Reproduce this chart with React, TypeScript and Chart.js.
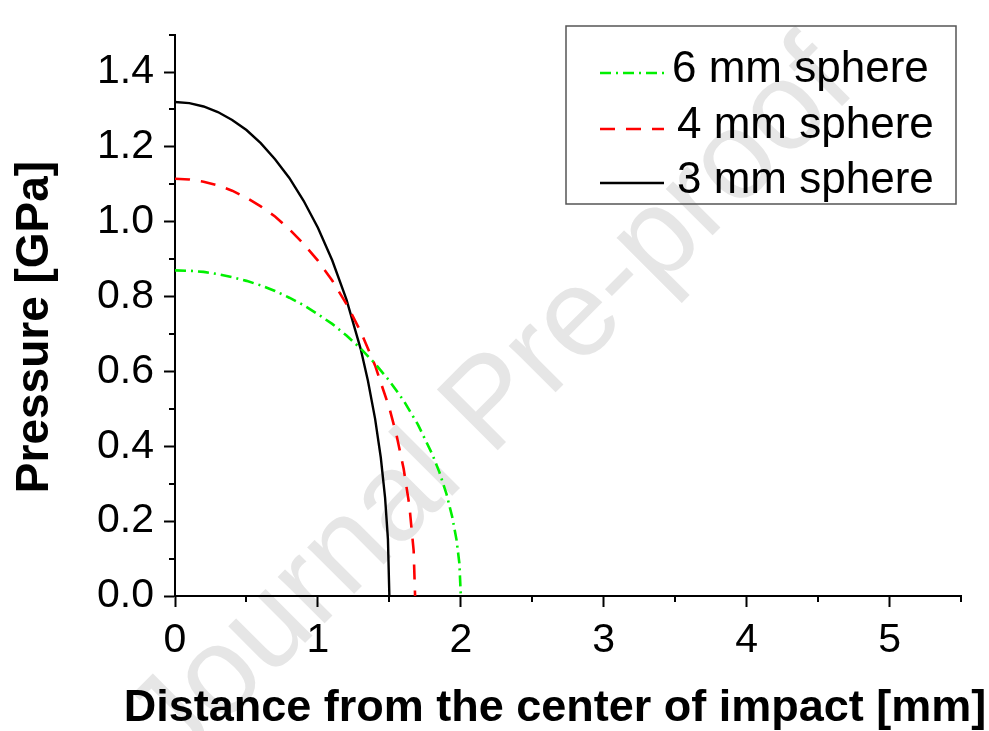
import React, { useEffect, useRef } from "react";
import { Chart, registerables } from "chart.js";

Chart.register(...registerables);

// ---- data ----
const seriesLabels = ["6 mm sphere", "4 mm sphere", "3 mm sphere"];

const x6 = [0, 0.1, 0.2, 0.3, 0.4, 0.5, 0.6, 0.7, 0.8, 0.9, 1.0, 1.1, 1.2, 1.3, 1.4, 1.5, 1.6, 1.7, 1.8, 1.85, 1.9, 1.94, 1.97, 1.99, 2.0];
const y6 = [0.87, 0.869, 0.866, 0.86, 0.852, 0.842, 0.83, 0.815, 0.797, 0.777, 0.753, 0.727, 0.696, 0.661, 0.621, 0.575, 0.522, 0.458, 0.379, 0.331, 0.272, 0.211, 0.15, 0.087, 0.0];

const x4 = [0, 0.1, 0.2, 0.3, 0.4, 0.5, 0.6, 0.7, 0.8, 0.9, 1.0, 1.1, 1.2, 1.3, 1.4, 1.5, 1.55, 1.6, 1.64, 1.67, 1.68];
const y4 = [1.115, 1.113, 1.107, 1.097, 1.083, 1.064, 1.041, 1.014, 0.98, 0.941, 0.896, 0.843, 0.78, 0.706, 0.616, 0.502, 0.43, 0.34, 0.242, 0.121, 0.0];

const x3 = [0, 0.1, 0.2, 0.3, 0.4, 0.5, 0.6, 0.7, 0.8, 0.9, 1.0, 1.1, 1.2, 1.3, 1.35, 1.4, 1.44, 1.47, 1.49, 1.5];
const y3 = [1.32, 1.317, 1.308, 1.293, 1.272, 1.245, 1.21, 1.167, 1.117, 1.056, 0.984, 0.897, 0.792, 0.659, 0.575, 0.474, 0.37, 0.263, 0.152, 0.0];

const xMajorTicks = [0, 1, 2, 3, 4, 5];
const xMinorTicks = [0.5, 1.5, 2.5, 3.5, 4.5, 5.5];
const yMajorTicks = [0, 0.2, 0.4, 0.6, 0.8, 1.0, 1.2, 1.4];
const yMinorTicks = [0.1, 0.3, 0.5, 0.7, 0.9, 1.1, 1.3, 1.5];

const xTitle = "Distance from the center of impact [mm]";
const yTitle = "Pressure [GPa]";
const watermark = "Journal Pre-proof";

const FONT = "'Liberation Sans', Arial, Helvetica, sans-serif";

const toPoints = (xs: number[], ys: number[]) => xs.map((x, i) => ({ x, y: ys[i] }));

export default function App() {
  const ref = useRef<HTMLCanvasElement | null>(null);

  useEffect(() => {
    if (!ref.current) return;

    const watermarkPlugin = {
      id: "watermark",
      beforeDraw(chart: any) {
        const ctx = chart.ctx;
        ctx.save();
        ctx.font = `125px ${FONT}`;
        ctx.fillStyle = "#e6e6e6";
        ctx.textAlign = "left";
        ctx.textBaseline = "alphabetic";
        ctx.translate(176, 772);
        ctx.rotate(-Math.PI / 4);
        ctx.fillText(watermark, 0, 0);
        ctx.restore();
      },
    };

    const extrasPlugin = {
      id: "extras",
      afterDraw(chart: any) {
        const ctx = chart.ctx;
        const xs = chart.scales.x;
        const ys = chart.scales.y;
        const area = chart.chartArea;
        ctx.save();
        // minor ticks
        ctx.strokeStyle = "#000";
        ctx.lineWidth = 2;
        ctx.beginPath();
        xMinorTicks.forEach((v) => {
          const px = Math.round(xs.getPixelForValue(v));
          ctx.moveTo(px, area.bottom);
          ctx.lineTo(px, area.bottom + 6);
        });
        yMinorTicks.forEach((v) => {
          const py = Math.round(ys.getPixelForValue(v));
          ctx.moveTo(area.left, py);
          ctx.lineTo(area.left - 6, py);
        });
        ctx.stroke();

        // axis titles
        ctx.fillStyle = "#000";
        ctx.font = `bold 45px ${FONT}`;
        ctx.textAlign = "center";
        ctx.textBaseline = "alphabetic";
        ctx.fillText(xTitle, 555, 721);
        ctx.save();
        ctx.translate(48, 327);
        ctx.rotate(-Math.PI / 2);
        ctx.font = `bold 46px ${FONT}`;
        ctx.fillText(yTitle, 0, 0);
        ctx.restore();

        // legend
        ctx.strokeStyle = "#555";
        ctx.lineWidth = 1.5;
        ctx.strokeRect(566, 26, 390, 178);
        const rowLine = [73, 129, 183];
        const rowText = [82, 138, 193];
        const rowTextX = [672, 677, 677];
        chart.data.datasets.forEach((ds: any, i: number) => {
          ctx.save();
          ctx.strokeStyle = ds.borderColor;
          ctx.lineWidth = ds.borderWidth;
          ctx.setLineDash(ds.borderDash || []);
          ctx.beginPath();
          ctx.moveTo(600, rowLine[i]);
          ctx.lineTo(664, rowLine[i]);
          ctx.stroke();
          ctx.restore();
          ctx.fillStyle = "#000";
          ctx.font = `44px ${FONT}`;
          ctx.textAlign = "left";
          ctx.textBaseline = "alphabetic";
          ctx.fillText(ds.label, rowTextX[i], rowText[i]);
        });
        ctx.restore();
      },
    };

    const chart = new Chart(ref.current, {
      type: "line",
      data: {
        datasets: [
          {
            label: seriesLabels[0],
            data: toPoints(x6, y6),
            borderColor: "#00f000",
            borderWidth: 2.6,
            borderDash: [11, 5, 2, 5],
            pointRadius: 0,
            fill: false,
          },
          {
            label: seriesLabels[1],
            data: toPoints(x4, y4),
            borderColor: "#ff0000",
            borderWidth: 2.6,
            borderDash: [15, 11],
            pointRadius: 0,
            fill: false,
          },
          {
            label: seriesLabels[2],
            data: toPoints(x3, y3),
            borderColor: "#000000",
            borderWidth: 2.4,
            pointRadius: 0,
            fill: false,
          },
        ],
      },
      options: {
        animation: false,
        responsive: false,
        devicePixelRatio: 1,
        layout: { padding: { top: 11, right: 28, left: 0, bottom: 0 } },
        plugins: {
          legend: { display: false },
          tooltip: { enabled: false },
        },
        scales: {
          x: {
            type: "linear",
            min: 0,
            max: 5.5,
            afterBuildTicks: (s: any) => {
              s.ticks = xMajorTicks.map((v) => ({ value: v }));
            },
            afterFit: (s: any) => {
              s.height = 135;
            },
            ticks: {
              color: "#000",
              font: { family: FONT, size: 41 },
              padding: 9,
              maxRotation: 0,
              autoSkip: false,
              callback: (v: any) => String(v),
            },
            grid: {
              display: true,
              drawOnChartArea: false,
              drawTicks: true,
              tickLength: 11,
              tickWidth: 2,
              tickColor: "#000",
            },
            border: { display: true, color: "#000", width: 2 },
          },
          y: {
            type: "linear",
            min: 0,
            max: 1.5,
            afterBuildTicks: (s: any) => {
              s.ticks = yMajorTicks.map((v) => ({ value: v }));
            },
            afterFit: (s: any) => {
              s.width = 175;
            },
            ticks: {
              color: "#000",
              font: { family: FONT, size: 41 },
              padding: 10,
              autoSkip: false,
              callback: (v: any) => Number(v).toFixed(1),
            },
            grid: {
              display: true,
              drawOnChartArea: false,
              drawTicks: true,
              tickLength: 11,
              tickWidth: 2,
              tickColor: "#000",
            },
            border: { display: true, color: "#000", width: 2 },
          },
        },
      },
      plugins: [watermarkPlugin, extrasPlugin],
    });

    return () => chart.destroy();
  }, []);

  return (
    <div style={{ position: "fixed", left: 0, top: 0, width: 989, height: 731, background: "#fff" }}>
      <canvas ref={ref} width={989} height={731} style={{ display: "block", width: 989, height: 731 }} />
    </div>
  );
}
